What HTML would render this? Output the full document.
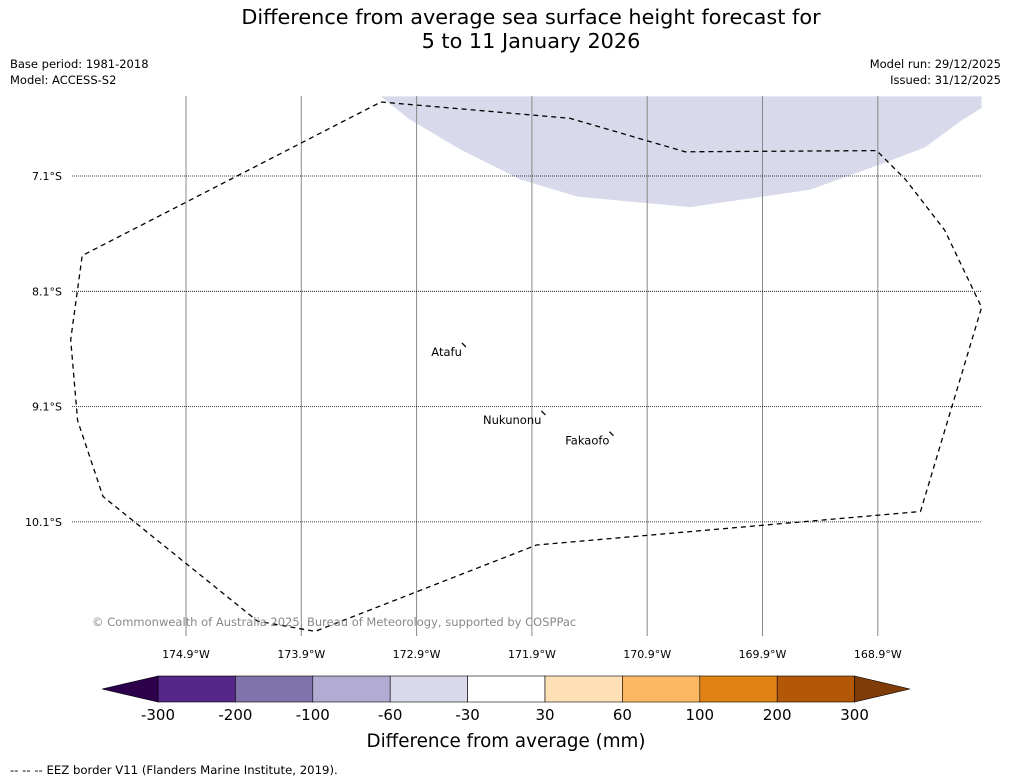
<!DOCTYPE html>
<html><head><meta charset="utf-8"><style>
body{margin:0;background:#fff;font-family:"Liberation Sans","DejaVu Sans",sans-serif}
svg{display:block}
</style></head><body>
<svg id="c" width="1011" height="781" xmlns="http://www.w3.org/2000/svg" font-family="DejaVu Sans, Liberation Sans, sans-serif">
<text x="531" y="24" text-anchor="middle" font-size="20.8">Difference from average sea surface height forecast for</text>
<text x="531" y="48" text-anchor="middle" font-size="20.8">5 to 11 January 2026</text>
<text x="10" y="68" font-size="11.5">Base period: 1981-2018</text>
<text x="10" y="84" font-size="11.5">Model: ACCESS-S2</text>
<text x="1001" y="68" font-size="11.5" text-anchor="end">Model run: 29/12/2025</text>
<text x="1001" y="84" font-size="11.5" text-anchor="end">Issued: 31/12/2025</text>
<g id="map"></g>
<g id="cbar"></g>
<text x="506" y="747" text-anchor="middle" font-size="18.3">Difference from average (mm)</text>
<text x="10" y="774" font-size="11.7">--  --  -- EEZ border V11 (Flanders Marine Institute, 2019).</text>
</svg>
<script>
const lonTicks=[-174.9,-173.9,-172.9,-171.9,-170.9,-169.9,-168.9];
const latTicks=[-7.1,-8.1,-9.1,-10.1];
const cbLevels=[-300,-200,-100,-60,-30,30,60,100,200,300];
const cbColors=["#542788","#8073ac","#b2abd2","#d8daeb","#ffffff","#fee0b6","#fdb863","#e08214","#b35806"];
const cbLow="#2d004b", cbHigh="#7f3b08";
const shadeLon=[-173.21,-172.96,-172.52,-172.0,-171.5,-170.53,-169.49,-168.88,-168.49,-168.19,-168.0,-168.0];
const shadeLat=[-6.41,-6.61,-6.87,-7.13,-7.28,-7.37,-7.22,-7.0,-6.85,-6.63,-6.51,-6.41];
const eezLon=[-173.21,-171.57,-170.57,-168.91,-168.66,-168.32,-168.0,-168.53,-171.86,-173.78,-174.28,-175.62,-175.84,-175.9,-175.8,-173.21];
const eezLat=[-6.458,-6.6,-6.89,-6.88,-7.13,-7.57,-8.24,-10.01,-10.3,-11.05,-10.96,-9.88,-9.22,-8.52,-7.79,-6.458];
const islands=["Atafu","Nukunonu","Fakaofo"];
const islLon=[-172.49,-171.80,-171.21];
const islLat=[-8.565,-9.155,-9.335];
const NS="http://www.w3.org/2000/svg";
const X=lon=>186+(lon+174.9)*115.3;
const Y=lat=>176+(-7.1-lat)*115.3;
const L=72,R=982,T=96,B=636;
function mk(p,t,a){const e=document.createElementNS(NS,t);for(const k in a)e.setAttribute(k,a[k]);p.appendChild(e);return e;}
const map=document.getElementById('map');
const sp=shadeLon.map((v,i)=>X(v).toFixed(1)+','+Y(shadeLat[i]).toFixed(1)).join(' ');
const sh=mk(map,'polygon',{points:sp,fill:'#d8d9ea'});


lonTicks.forEach(v=>{
 const x=X(v);
 const l=mk(map,'line',{x1:x,x2:x,y1:T,y2:B,stroke:'#888','stroke-width':1});
 
 
 const t=mk(map,'text',{x:x,y:658,'text-anchor':'middle','font-size':11});
 t.textContent=Math.abs(v).toFixed(1)+'°W';
 
 
});
latTicks.forEach(v=>{
 const y=Y(v);
 const l=mk(map,'line',{x1:L,x2:R,y1:y,y2:y,stroke:'#000','stroke-width':0.8,'stroke-dasharray':'1,1'});
 
 
 const t=mk(map,'text',{x:62,y:y+4,'text-anchor':'end','font-size':11});
 t.textContent=Math.abs(v).toFixed(1)+'°S';
 
 
});
const ep=eezLon.map((v,i)=>X(v).toFixed(1)+','+Y(eezLat[i]).toFixed(1)).join(' ');
const ee=mk(map,'polyline',{points:ep,fill:'none',stroke:'#000','stroke-width':1.3,'stroke-dasharray':'5,4'});


islands.forEach((n,i)=>{
 const x=X(islLon[i]),y=Y(islLat[i]);
 const m=mk(map,'line',{x1:x-2,y1:y-2,x2:x+2,y2:y+2,stroke:'#000','stroke-width':1.3});
 
 
 const t=mk(map,'text',{x:x-2,y:y+11,'text-anchor':'end','font-size':11.5});
 t.textContent=n;
 
 
});
const cp=mk(map,'text',{x:92,y:626,'font-size':11.5,fill:'#888'});
cp.textContent='© Commonwealth of Australia 2025, Bureau of Meteorology, supported by COSPPac';


const cb=document.getElementById('cbar');
const cx0=158,cw=77.4,cy=676,ch=26;
cbColors.forEach((c,i)=>{
 const r=mk(cb,'rect',{x:cx0+i*cw,y:cy,width:cw,height:ch,fill:c,stroke:'#000','stroke-width':0.6});
 
 
});
const xe=cx0+cbColors.length*cw;
const lt=mk(cb,'polygon',{points:`${cx0},${cy} 102,${cy+ch/2} ${cx0},${cy+ch}`,fill:cbLow,stroke:'#000','stroke-width':0.6});


const rt=mk(cb,'polygon',{points:`${xe},${cy} 910,${cy+ch/2} ${xe},${cy+ch}`,fill:cbHigh,stroke:'#000','stroke-width':0.6});


cbLevels.forEach((v,i)=>{
 const t=mk(cb,'text',{x:cx0+i*cw,y:720,'text-anchor':'middle','font-size':15});
 t.textContent=v;
 
 
});
</script>
</body></html>
